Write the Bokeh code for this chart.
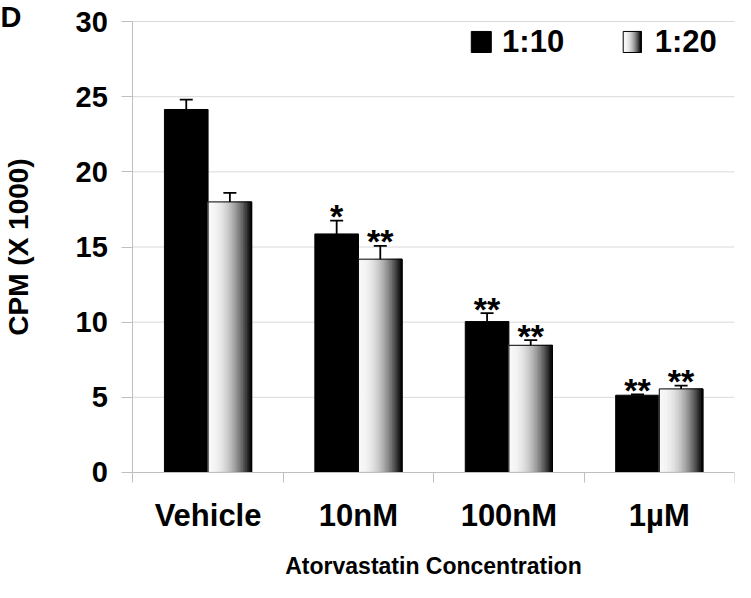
from bokeh.plotting import figure
from bokeh.models import Range1d, FixedTicker, Whisker, TeeHead, ColumnDataSource, Label
from bokeh.core.properties import value
from bokeh.embed import file_html
from bokeh.resources import INLINE
import numpy as np

# ---- data ----
categories = ["Vehicle", "10nM", "100nM", "1µM"]
series_names = ["1:10", "1:20"]
ratio_1_10 = [24.15, 15.87, 10.04, 5.14]
ratio_1_10_err = [0.65, 0.89, 0.56, 0.05]
ratio_1_20 = [18.0, 14.19, 8.46, 5.56]
ratio_1_20_err = [0.6, 0.88, 0.34, 0.22]
stars_1_10 = ["", "*", "**", "**"]
stars_1_20 = ["", "**", "**", "**"]
y_ticks = [0, 5, 10, 15, 20, 25, 30]

# ---- style / layout ----
FONT = "Liberation Sans"
BAR_W = 0.29
GRID = "#d9d9d9"
AXIS = "#bfbfbf"
N_STRIPS = 32
X_START = -0.88    # room on the left (inside the frame) for the y axis
Y_START = -7.32    # room at the bottom (inside the frame) for the x axis
Y_END = 31.40      # room on top for the panel letter


def shade(t):
    v = int(round(248 * (1 - t ** 2.2)))
    v = max(0, min(255, v))
    return "#%02x%02x%02x" % (v, v, v)


n = len(categories)
xc = np.arange(n) + 0.5
y_max = y_ticks[-1]

p = figure(width=735, height=582, output_backend="svg", toolbar_location=None,
           x_range=Range1d(X_START, n), y_range=Range1d(Y_START, Y_END),
           min_border_left=0, min_border_right=1, min_border_top=0,
           min_border_bottom=0)
p.outline_line_color = None
p.background_fill_color = "white"
p.border_fill_color = "white"
p.xgrid.visible = False
p.ygrid.visible = False

# horizontal grid lines, limited to the plotting area x in [0, n]
p.segment(x0=[0] * (len(y_ticks) - 1), x1=[n] * (len(y_ticks) - 1),
          y0=y_ticks[1:], y1=y_ticks[1:], line_color=GRID, line_width=1)

# ---- 1:10 bars (black) ----
p.quad(left=xc - BAR_W, right=xc, top=ratio_1_10, bottom=0,
       fill_color="black", line_color="black", line_width=1)


# ---- 1:20 bars (gradient) ----
def gradient_strips(left0, width, tops, bottoms):
    L, R, T, B, C = [], [], [], [], []
    for l0, tp, bt in zip(left0, tops, bottoms):
        for k in range(N_STRIPS):
            L.append(l0 + width * k / N_STRIPS)
            R.append(l0 + width * (k + 1) / N_STRIPS)
            T.append(tp)
            B.append(bt)
            C.append(shade((k + 0.5) / N_STRIPS))
    return dict(left=L, right=R, top=T, bottom=B, color=C)


g = ColumnDataSource(gradient_strips(xc, BAR_W, ratio_1_20, [0] * n))
p.quad(left="left", right="right", top="top", bottom="bottom", fill_color="color",
       line_color="color", line_width=1, source=g)
p.quad(left=xc, right=xc + BAR_W, top=ratio_1_20, bottom=0,
       fill_color=None, line_color="black", line_width=1)

# ---- error bars (upper only) ----
for centers, vals, errs in ((xc - BAR_W / 2, ratio_1_10, ratio_1_10_err),
                            (xc + BAR_W / 2, ratio_1_20, ratio_1_20_err)):
    up = [v + e for v, e in zip(vals, errs)]
    src = ColumnDataSource(dict(base=list(centers), lower=list(vals), upper=up))
    w = Whisker(source=src, base="base", lower="lower", upper="upper",
                dimension="height", line_color="black", line_width=1.8,
                upper_head=TeeHead(size=13, line_color="black", line_width=1.8),
                lower_head=None, level="glyph")
    p.add_layout(w)

# ---- significance stars ----
for centers, vals, errs, stars in ((xc - BAR_W / 2, ratio_1_10, ratio_1_10_err, stars_1_10),
                                   (xc + BAR_W / 2, ratio_1_20, ratio_1_20_err, stars_1_20)):
    ys = [v + e + 0.3 for v, e in zip(vals, errs)]
    p.text(x=list(centers), y=ys, text=stars, text_align="center",
           text_baseline="alphabetic", text_font=value(FONT),
           text_font_style="bold", text_font_size="34px", text_color="black")

# ---- axes ----
yax = p.yaxis[0]
yax.fixed_location = 0
yax.bounds = (0, y_max)
yax.ticker = FixedTicker(ticks=y_ticks)
yax.axis_line_color = AXIS
yax.major_tick_line_color = AXIS
yax.major_tick_out = 11
yax.major_tick_in = 0
yax.minor_tick_line_color = None
yax.major_label_text_font = FONT
yax.major_label_text_font_style = "bold"
yax.major_label_text_font_size = "29px"
yax.major_label_text_color = "black"
yax.major_label_standoff = 14
yax.axis_label = "CPM (X 1000)"
yax.axis_label_text_font = FONT
yax.axis_label_text_font_style = "bold"
yax.axis_label_text_font_size = "28px"
yax.axis_label_text_color = "black"
yax.axis_label_standoff = 38

xax = p.xaxis[0]
xax.fixed_location = 0
xax.bounds = (0, n)
xax.ticker = FixedTicker(ticks=list(xc), minor_ticks=list(range(n + 1)))
xax.major_label_overrides = {float(x): c for x, c in zip(xc, categories)}
xax.axis_line_color = AXIS
xax.major_tick_line_color = None
xax.major_tick_out = 10
xax.major_tick_in = 0
xax.minor_tick_line_color = AXIS
xax.minor_tick_out = 10
xax.minor_tick_in = 0
xax.major_label_text_font = FONT
xax.major_label_text_font_style = "bold"
xax.major_label_text_font_size = "31px"
xax.major_label_text_color = "black"
xax.major_label_standoff = 16
xax.axis_label = "Atorvastatin Concentration"
xax.axis_label_text_font = FONT
xax.axis_label_text_font_style = "bold"
xax.axis_label_text_font_size = "23px"
xax.axis_label_text_color = "black"
xax.axis_label_standoff = 16

# ---- legend (drawn manually: black and gradient swatches) ----
LEG_Y0, LEG_Y1 = 27.94, 29.34
p.quad(left=[2.25], right=[2.383], top=[LEG_Y1], bottom=[LEG_Y0],
       fill_color="black", line_color="black")
lg = ColumnDataSource(gradient_strips([3.26], 0.12, [LEG_Y1], [LEG_Y0]))
p.quad(left="left", right="right", top="top", bottom="bottom", fill_color="color",
       line_color="color", line_width=1, source=lg)
p.quad(left=[3.26], right=[3.38], top=[LEG_Y1], bottom=[LEG_Y0],
       fill_color=None, line_color="black")
p.text(x=[2.455, 3.47], y=[(LEG_Y0 + LEG_Y1) / 2] * 2, text=series_names,
       text_align="left", text_baseline="middle", text_font=value(FONT),
       text_font_style="bold", text_font_size="31px", text_color="black")

# ---- panel letter ----
p.add_layout(Label(x=X_START, y=Y_END, text="D", text_align="left", text_baseline="top",
                   text_font=FONT, text_font_style="bold", text_font_size="29px",
                   text_color="black"))

open("out.html", "w").write(file_html(p, INLINE))
